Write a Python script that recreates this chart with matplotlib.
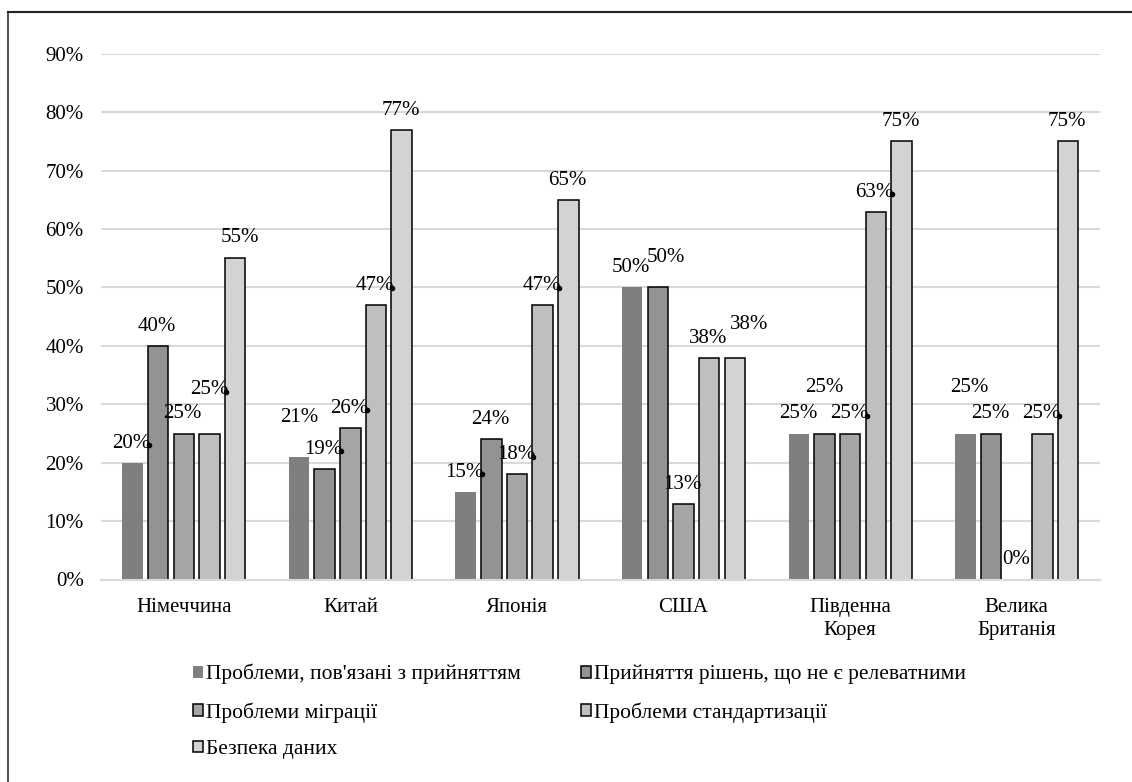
import numpy as np
import matplotlib.pyplot as plt
from matplotlib.transforms import offset_copy
from matplotlib.lines import Line2D

plt.rcParams['font.family'] = ['Liberation Serif', 'DejaVu Serif']

countries = ['Німеччина', 'Китай', 'Японія', 'США', 'Південна\nКорея', 'Велика\nБританія']
series_names = ["Проблеми, пов'язані з прийняттям",
                'Прийняття рішень, що не є релеватними',
                'Проблеми міграції',
                'Проблеми стандартизації',
                'Безпека даних']
adoption = [20, 21, 15, 50, 25, 25]
irrelevant = [40, 19, 24, 50, 25, 25]
migration = [25, 26, 18, 13, 25, 0]
standard = [25, 47, 47, 38, 63, 25]
security = [55, 77, 65, 38, 75, 75]
values = [adoption, irrelevant, migration, standard, security]

colors = ['#7f7f7f', '#939393', '#a5a5a5', '#bfbfbf', '#d3d3d3']
edges = ['none', 'black', 'black', 'black', 'black']

# label shifts in pixels (dx, dy up) for hand-placed labels; the rest sit above the bar
label_shift = {(0, 3): (-0.5, 44), (0, 4): (5, 21), (1, 0): (0, 39),
               (3, 1): (7.5, 29.5), (3, 4): (14, 33), (4, 1): (0, 46),
               (5, 0): (3.5, 46)}
dotted = [(0, 0), (0, 3), (1, 1), (1, 2), (1, 3), (2, 0), (2, 2), (2, 3),
          (4, 2), (4, 3), (5, 3)]

W, H = 1132, 782
fig = plt.figure(figsize=(W / 100, H / 100), dpi=100)
ax = fig.add_axes([100.5 / W, 202.5 / H, 999.5 / W, 525.6 / H])

pitch = 0.154
width = 0.123
x = np.arange(len(countries))

handles = []
for j, vals in enumerate(values):
    xs = x + (j - 2) * pitch
    bars = ax.bar(xs, vals, width, color=colors[j], edgecolor=edges[j],
                  linewidth=1.1, label=series_names[j], zorder=2)
    handles.append(bars)
    for i, v in enumerate(vals):
        dx, dy = label_shift.get((i, j), (-1, 19.5))
        ax.annotate(f'{v}%', xy=(xs[i], v), xytext=(dx, dy),
                    textcoords='offset pixels', ha='center', va='center',
                    fontsize=15, zorder=4)
        if (i, j) in dotted:
            nxt = x[i] + (j - 1) * pitch - width / 2
            tr = offset_copy(ax.transData, fig=fig, x=1, y=dy - 2, units='dots')
            ax.plot(nxt, v, 'o', color='black', markersize=3, transform=tr,
                    zorder=5, clip_on=False)

ax.set_xlim(-0.5, 5.5)
ax.set_ylim(0, 90)
ax.set_yticks(range(0, 91, 10))
ax.set_yticklabels([f'{t}%' for t in range(0, 91, 10)])
ax.set_xticks(x)
ax.set_xticklabels(countries, linespacing=1.3)
ax.tick_params(axis='both', length=0, labelsize=15)
ax.tick_params(axis='y', pad=12)
ax.tick_params(axis='x', pad=13)
ax.grid(axis='y', color='#d9d9d9', linewidth=1.5, zorder=0)
ax.set_axisbelow(True)
for s in ['top', 'right', 'left']:
    ax.spines[s].set_visible(False)
ax.spines['bottom'].set_color('#d9d9d9')
ax.spines['bottom'].set_linewidth(1.5)

# legend entries run across rows, two per row
order = [0, 2, 4, 1, 3]
fig.legend([handles[k] for k in order], [series_names[k] for k in order],
           loc='upper left', bbox_to_anchor=(193 / W, 1 - 664 / H), ncol=2,
           frameon=False, fontsize=15.5, handlelength=0.45, handleheight=0.45,
           handletextpad=0.15, columnspacing=2.8, labelspacing=0.82,
           borderpad=0, borderaxespad=0)

# frame around the chart area
fig.add_artist(Line2D([8 / W, 8 / W], [0, 1 - 12 / H], color='#555555',
                      linewidth=1.5, transform=fig.transFigure))
fig.add_artist(Line2D([8 / W, 1], [1 - 12 / H, 1 - 12 / H], color='#222222',
                      linewidth=1.5, transform=fig.transFigure))

fig.savefig('out.png', dpi=100)
